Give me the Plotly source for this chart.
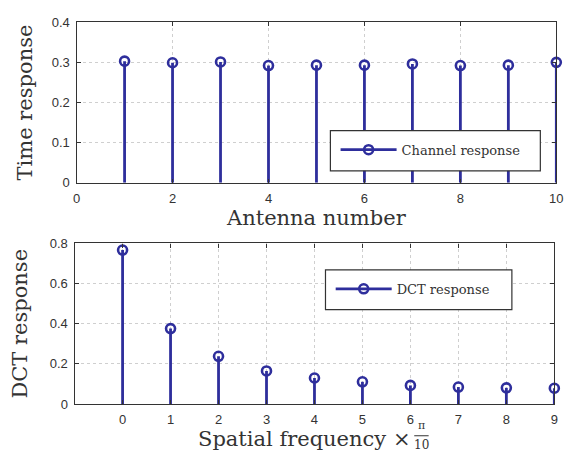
import plotly.graph_objects as go

# Channel response per antenna
antenna = [1, 2, 3, 4, 5, 6, 7, 8, 9, 10]
channel_resp = [0.303, 0.299, 0.301, 0.292, 0.293, 0.293, 0.296, 0.292, 0.293, 0.300]

# DCT coefficients per spatial frequency index
freq_idx = [0, 1, 2, 3, 4, 5, 6, 7, 8, 9]
dct_resp = [0.767, 0.376, 0.238, 0.165, 0.130, 0.111, 0.093, 0.085, 0.081, 0.079]

top_xticks = [0, 2, 4, 6, 8, 10]
top_yticks = [0, 0.1, 0.2, 0.3, 0.4]
bot_xticks = [0, 1, 2, 3, 4, 5, 6, 7, 8, 9]
bot_yticks = [0, 0.2, 0.4, 0.6, 0.8]

BLUE = "#2e2e9c"
INK = "#333333"
SERIF = "DejaVu Serif"
SANS = "Liberation Sans"
W, H = 580, 466


def stems(xs, ys):
    sx, sy = [], []
    for x, y in zip(xs, ys):
        sx += [x, x, None]
        sy += [0, y, None]
    return sx, sy


head = dict(symbol="circle-open", size=9, color=BLUE, line=dict(width=2.6, color=BLUE))

fig = go.Figure()

for xs, ys, name, xa, ya, lg in [
    (antenna, channel_resp, "Channel response", "x", "y", "legend"),
    (freq_idx, dct_resp, "DCT response", "x2", "y2", "legend2"),
]:
    sx, sy = stems(xs, ys)
    # stems
    fig.add_trace(go.Scatter(
        x=sx, y=sy, mode="lines", line=dict(color=BLUE, width=2.8),
        xaxis=xa, yaxis=ya, showlegend=False, hoverinfo="skip", cliponaxis=False,
    ))
    # heads
    fig.add_trace(go.Scatter(
        x=xs, y=ys, mode="markers", name=name, showlegend=False,
        marker=head, xaxis=xa, yaxis=ya, cliponaxis=False,
    ))
    # legend entry (line + marker swatch)
    fig.add_trace(go.Scatter(
        x=[None], y=[None], mode="lines+markers", name=name,
        line=dict(color=BLUE, width=2.8), marker=head,
        xaxis=xa, yaxis=ya, legend=lg,
    ))

axis_common = dict(
    showline=True, linecolor=INK, linewidth=1.3, mirror="ticks",
    ticks="inside", ticklen=4, tickcolor=INK, tickwidth=1,
    showgrid=True, gridcolor="#cfcfcf", griddash="dot", gridwidth=1,
    zeroline=False, tickfont=dict(family=SANS, size=13, color=INK),
    ticklabelstandoff=3,
)

legend_common = dict(
    xanchor="left", yanchor="middle", borderwidth=0, bgcolor="rgba(0,0,0,0)",
    font=dict(family=SERIF, size=13, color=INK), itemwidth=56,
)

title_font = dict(family=SERIF, size=21, color=INK)

fig.update_layout(
    width=W, height=H,
    margin=dict(l=0, r=0, t=0, b=0),
    paper_bgcolor="white", plot_bgcolor="white",
    xaxis=dict(axis_common, domain=[0.1276, 0.9707], range=[0, 10],
               tickvals=top_xticks, anchor="y"),
    yaxis=dict(axis_common, domain=[0.6101, 0.9663], range=[0, 0.4],
               tickvals=top_yticks, ticktext=["0", "0.1", "0.2", "0.3", "0.4"], anchor="x",
               title=dict(text="Time response", font=title_font, standoff=13)),
    xaxis2=dict(axis_common, domain=[0.1241, 0.9672], range=[-1, 9],
                tickvals=bot_xticks, anchor="y2"),
    yaxis2=dict(axis_common, domain=[0.1195, 0.4758], range=[0, 0.8],
                tickvals=bot_yticks, ticktext=["0", "0.2", "0.4", "0.6", "0.8"], anchor="x2",
                title=dict(text="DCT response", font=title_font, standoff=16)),
    legend=dict(legend_common, x=338 / W, y=1 - 147.5 / H),
    legend2=dict(legend_common, x=333 / W, y=1 - 291.2 / H),
    showlegend=True,
)

# Legend frames (white boxes sitting over the stems)
for x0, x1, y0, y1 in [(332.7, 546.7, 127.7, 169.3), (327.7, 517.7, 271.7, 312.7)]:
    fig.add_shape(type="rect", xref="paper", yref="paper", layer="above",
                  x0=x0 / W, x1=x1 / W, y0=1 - y1 / H, y1=1 - y0 / H,
                  fillcolor="white", line=dict(color=INK, width=1.2))

# Axis titles below the x axes
fig.add_annotation(text="Antenna number", x=0.5, xref="x domain", y=-0.22, yref="y domain",
                   showarrow=False, xanchor="center", yanchor="middle", font=title_font)
fig.add_annotation(text="Spatial frequency \u00d7", x=0.4775, xref="x2 domain", y=-0.215, yref="y2 domain",
                   showarrow=False, xanchor="center", yanchor="middle", font=title_font)
fig.add_annotation(text="\u03c0", x=0.723, xref="x2 domain", y=-0.132, yref="y2 domain",
                   showarrow=False, xanchor="center", yanchor="middle",
                   font=dict(family=SERIF, size=11, color=INK))
fig.add_annotation(text="10", x=0.723, xref="x2 domain", y=-0.255, yref="y2 domain",
                   showarrow=False, xanchor="center", yanchor="middle",
                   font=dict(family=SERIF, size=12, color=INK))
fig.add_shape(type="line", xref="x2 domain", yref="y2 domain",
              x0=0.708, x1=0.738, y0=-0.197, y1=-0.197, line=dict(color=INK, width=1))

fig.write_html("out.html")
